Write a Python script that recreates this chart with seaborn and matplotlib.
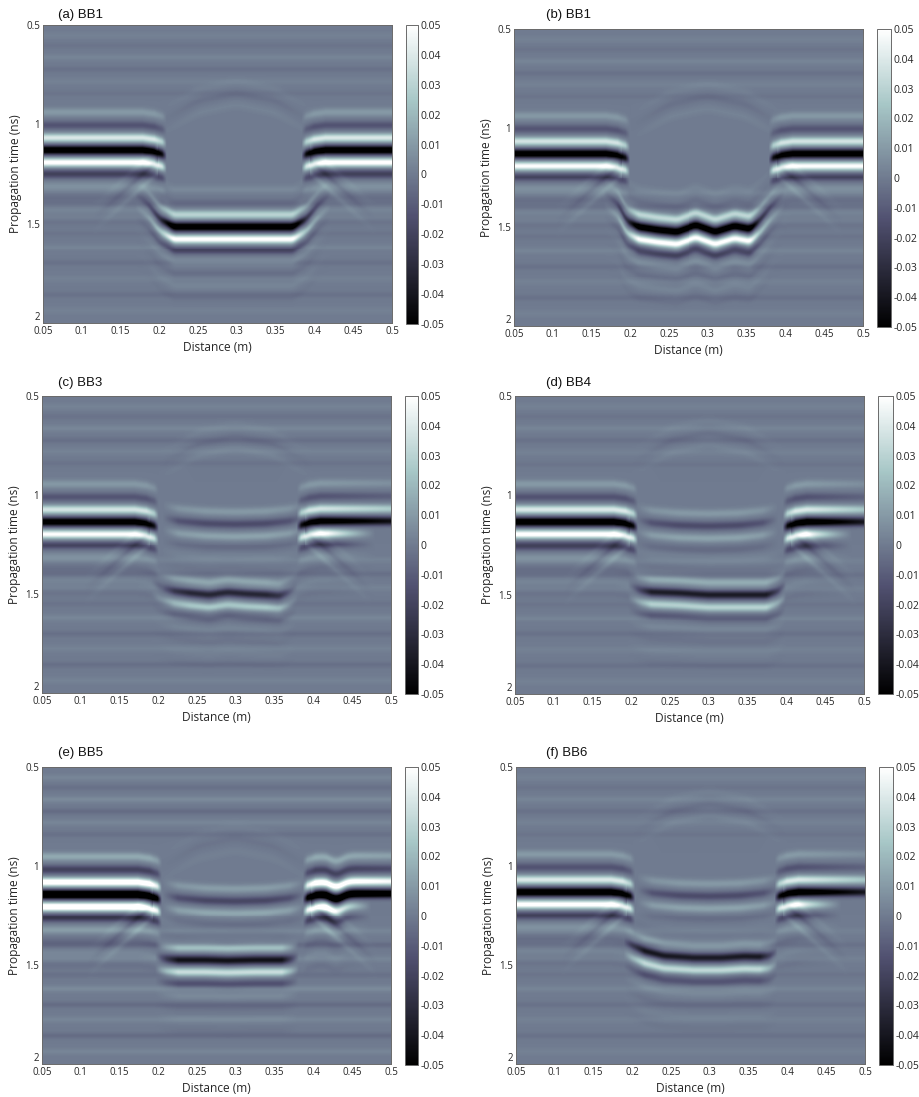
import numpy as np
import matplotlib
matplotlib.use("Agg")
import matplotlib.pyplot as plt
import seaborn as sns

# ------------------------------------------------------------------ text
PANEL_TITLES = ["(a) BB1", "(b) BB1", "(c) BB3", "(d) BB4", "(e) BB5", "(f) BB6"]
X_LABEL = "Distance (m)"
Y_LABEL = "Propagation time (ns)"
X_TICKS = [0.05, 0.1, 0.15, 0.2, 0.25, 0.3, 0.35, 0.4, 0.45, 0.5]
X_TICK_LABELS = ["0.05", "0.1", "0.15", "0.2", "0.25", "0.3", "0.35", "0.4", "0.45", "0.5"]
Y_TICKS = [0.5, 1.0, 1.5, 2.0]
Y_TICK_LABELS = ["0.5", "1", "1.5", "2"]
CBAR_TICKS = [-0.05, -0.04, -0.03, -0.02, -0.01, 0.0, 0.01, 0.02, 0.03, 0.04, 0.05]
CBAR_TICK_LABELS = ["-0.05", "-0.04", "-0.03", "-0.02", "-0.01", "0",
                    "0.01", "0.02", "0.03", "0.04", "0.05"]
VMIN, VMAX = -0.05, 0.05
DIST_RANGE = [0.05, 0.5]
TIME_RANGE = [0.5, 2.0]

# ------------------------------------------------------------------ wavelet (lobe offsets in ns, relative weights)
W_OFF = [-0.19, -0.125, -0.062, 0.0, 0.062, 0.12, 0.18, 0.24, 0.30, 0.36]
W_WT = [0.15, -0.20, 0.60, -1.00, 0.80, -0.32, 0.10, -0.06, 0.045, -0.035]
W_SIG = 0.021

# ------------------------------------------------------------------ surface reflector (per panel)
SURF_T = [1.130, 1.128, 1.134, 1.134, 1.142, 1.130]
SURF_T_RIGHT = [1.130, 1.128, 1.130, 1.134, 1.138, 1.130]
SURF_AMP = [0.065, 0.062, 0.062, 0.066, 0.080, 0.066]
SURF_FRONT = [1.0, 1.0, 1.0, 1.0, 1.25, 1.0]
LEFT_EDGE = [0.203, 0.193, 0.194, 0.202, 0.198, 0.197]
RIGHT_EDGE = [0.390, 0.385, 0.385, 0.402, 0.393, 0.390]
RIGHT_BACK_END = [0.60, 0.60, 0.48, 0.485, 0.475, 0.47]
RIGHT_FRONT_END = [1.0, 1.0, 0.7, 0.6, 0.8, 0.6]
RIGHT_DIP_X = [0.0, 0.0, 0.0, 0.0, 0.430, 0.0]
RIGHT_DIP_D = [0.0, 0.0, 0.0, 0.0, 0.025, 0.0]
EDGE_DX = [-0.025, -0.010, 0.0, 0.006]
EDGE_DT = [0.0, 0.008, 0.020, 0.030]
EDGE_W = [1.0, 1.0, 0.7, 0.0]
DIFF_SLOPE = 3.5
DIFF_LEN = 0.09
DIFF_AMP = [0.14, 0.14, 0.14, 0.14, 0.14, 0.14]

# ------------------------------------------------------------------ intermediate reflector (c-f)
MID_T = [0.0, 0.0, 1.142, 1.151, 1.172, 1.147]
MID_AMP = [0.0, 0.0, 0.016, 0.016, 0.018, 0.016]
MID_X = [0.205, 0.225, 0.26, 0.30, 0.34, 0.37, 0.39]
MID_DT = [-0.030, -0.012, 0.0, 0.004, 0.0, -0.012, -0.030]
MID_W = [0.0, 0.8, 1.0, 1.0, 1.0, 0.8, 0.0]

# ------------------------------------------------------------------ faint dome above the gap
DOME_APEX = [0.84, 0.84, 0.70, 0.68, 0.86, 0.68]
DOME_AMP = [0.003, 0.003, 0.003, 0.003, 0.002, 0.003]
DOME_X = [0.20, 0.25, 0.30, 0.35, 0.40]
DOME_DT = [0.15, 0.04, 0.0, 0.04, 0.15]
DOME_W = [0.0, 1.0, 1.0, 1.0, 0.0]

# ------------------------------------------------------------------ deep reflector (trough time vs distance)
DEEP_X = [
    [0.168, 0.184, 0.200, 0.218, 0.25, 0.30, 0.35, 0.373, 0.390, 0.407, 0.422],
    [0.165, 0.182, 0.195, 0.21, 0.235, 0.26, 0.285, 0.31, 0.335, 0.355, 0.367, 0.384, 0.40],
    [0.19, 0.205, 0.22, 0.24, 0.265, 0.29, 0.315, 0.34, 0.357, 0.37, 0.38],
    [0.195, 0.21, 0.225, 0.26, 0.30, 0.345, 0.375, 0.39, 0.40],
    [0.195, 0.21, 0.225, 0.26, 0.29, 0.325, 0.36, 0.372, 0.382],
    [0.188, 0.20, 0.215, 0.24, 0.28, 0.315, 0.345, 0.365, 0.378, 0.388],
]
DEEP_T = [
    [1.35, 1.40, 1.475, 1.515, 1.515, 1.515, 1.515, 1.515, 1.475, 1.40, 1.35],
    [1.33, 1.38, 1.47, 1.50, 1.515, 1.525, 1.49, 1.525, 1.495, 1.51, 1.47, 1.39, 1.33],
    [1.44, 1.47, 1.485, 1.495, 1.505, 1.492, 1.50, 1.505, 1.51, 1.49, 1.46],
    [1.45, 1.475, 1.485, 1.49, 1.50, 1.50, 1.50, 1.48, 1.45],
    [1.46, 1.47, 1.475, 1.475, 1.478, 1.475, 1.475, 1.47, 1.46],
    [1.38, 1.405, 1.43, 1.455, 1.465, 1.465, 1.458, 1.46, 1.455, 1.43],
]
DEEP_W = [
    [0, 0.15, 0.45, 1, 1, 1, 1, 1, 0.45, 0.15, 0],
    [0, 0.15, 0.45, 1, 1, 1, 1, 1, 1, 1, 0.45, 0.15, 0],
    [0, 0.3, 0.8, 1, 1, 1, 1, 1, 0.8, 0.3, 0],
    [0, 0.5, 1, 1, 1, 1, 1, 0.5, 0],
    [0, 0.6, 1, 1, 1, 1, 1, 0.5, 0],
    [0, 0.5, 1, 1, 1, 1, 1, 1, 0.5, 0],
]
DEEP_AMP = [0.065, 0.065, 0.033, 0.038, 0.045, 0.040]
DEEP_FRONT = [0.75, 0.8, 0.7, 0.7, 0.9, 0.5]
DEEP_PRE = 0.35

# ------------------------------------------------------------------ faint horizontal background banding
BG_T = [0.55, 0.60, 0.66, 0.72, 0.78, 0.84, 1.33, 1.40, 1.47, 1.55, 1.62, 1.70, 1.78, 1.86, 1.94]
BG_A = [0.002, -0.002, 0.003, -0.003, 0.002, -0.002, 0.002, -0.003, 0.002, -0.002,
        0.003, -0.003, 0.002, -0.003, 0.002]
BG_SCALE = [1.0, 1.0, 1.2, 1.0, 1.6, 1.0]

# ------------------------------------------------------------------ layout (pixels in a 919 x 1097 figure)
FIG_W, FIG_H = 919, 1097
AX_PX = [(43, 25, 392, 323), (514, 29, 863, 326), (42, 396, 391, 693),
         (515, 396, 864, 694), (42, 767, 391, 1064), (516, 767, 865, 1064)]
CB_PX = [(406, 25, 418, 324), (877, 29, 891, 327), (405, 396, 418, 694),
         (878, 396, 893, 694), (405, 767, 418, 1065), (879, 767, 893, 1065)]
TITLE_PX = [(58, 15), (546, 15), (58, 383), (546, 383), (58, 753), (546, 753)]

NX, NT = 350, 300
xs = np.linspace(DIST_RANGE[0], DIST_RANGE[1], NX)
ts = np.linspace(TIME_RANGE[0], TIME_RANGE[1], NT)
TT = ts[:, None]


def smooth(v, n=9):
    pad = n // 2
    vp = np.concatenate([np.full(pad, v[0]), v, np.full(pad, v[-1])])
    return np.convolve(vp, np.ones(n) / n, mode="valid")


def wavelet(tau, front=1.0, back=1.0, lobes=None, pre=1.0):
    out = np.zeros(np.broadcast(tau, np.asarray(back)).shape)
    idx = range(len(W_OFF)) if lobes is None else lobes
    for i in idx:
        off, wt = W_OFF[i], W_WT[i]
        f = front if off < 0 else (back if off > 0 else 1.0)
        if off < -0.1:
            f = f * pre
        out = out + f * wt * np.exp(-((tau - off) / W_SIG) ** 2)
    return out


def event(hx, ht, hw, amp, front=1.0, back=1.0, lobes=None, extra_t=None, pre=1.0, sm=1):
    h = np.interp(xs, hx, ht)
    if sm > 1:
        h = smooth(h, sm)
    if extra_t is not None:
        h = h + extra_t
    env = np.interp(xs, hx, hw, left=0.0, right=0.0)
    return amp * env[None, :] * wavelet(TT - h[None, :], front, back, lobes, pre)


def build_section(p):
    img = np.zeros((NT, NX))
    for bt, ba in zip(BG_T, BG_A):
        img += BG_SCALE[p] * ba * np.exp(-((TT - bt) / 0.016) ** 2) * np.ones((1, NX))
    le, t0, a0 = LEFT_EDGE[p], SURF_T[p], SURF_AMP[p]
    lx = [DIST_RANGE[0]] + [le + d for d in EDGE_DX]
    lt = [t0] + [t0 + d for d in EDGE_DT]
    lw = [1.0] + EDGE_W
    img += event(lx, lt, lw, a0, front=SURF_FRONT[p])
    re_, tr = RIGHT_EDGE[p], SURF_T_RIGHT[p]
    rx = [re_ - d for d in EDGE_DX[::-1]] + [DIST_RANGE[1] + 0.001]
    rt = [tr + d for d in EDGE_DT[::-1]] + [tr]
    rw = EDGE_W[::-1] + [RIGHT_FRONT_END[p]]
    back = np.interp(xs, [RIGHT_BACK_END[p] - 0.06, RIGHT_BACK_END[p]], [1.0, 0.0])[None, :]
    dip = RIGHT_DIP_D[p] * np.exp(-((xs - RIGHT_DIP_X[p]) / 0.012) ** 2)
    img += event(rx, rt, rw, a0, front=SURF_FRONT[p], back=back, extra_t=dip)
    da = DIFF_AMP[p] * a0
    img += event([le - DIFF_LEN, le - 0.005], [t0 + 0.05 + DIFF_SLOPE * (DIFF_LEN - 0.005), t0 + 0.05],
                 [0.0, 1.0], da, lobes=[2, 3, 4])
    img += event([re_ + 0.005, re_ + DIFF_LEN], [tr + 0.05, tr + 0.05 + DIFF_SLOPE * (DIFF_LEN - 0.005)],
                 [1.0, 0.0], da, lobes=[2, 3, 4])
    img += event(DOME_X, [DOME_APEX[p] + d for d in DOME_DT], DOME_W, DOME_AMP[p],
                 lobes=[2, 3, 4], sm=15)
    if MID_AMP[p] > 0:
        img += event(MID_X, [MID_T[p] + d for d in MID_DT], MID_W, MID_AMP[p],
                     lobes=[2, 3, 4, 5, 6], sm=11)
    img += event(DEEP_X[p], DEEP_T[p], DEEP_W[p], DEEP_AMP[p], front=DEEP_FRONT[p],
                 pre=DEEP_PRE, sm=7)
    return img


sns.set_theme(style="white")
plt.rcParams["font.family"] = ["Open Sans", "DejaVu Sans"]

fig = plt.figure(figsize=(FIG_W / 100, FIG_H / 100), dpi=100)
frame_col = "#6a6a6a"
text_col = "#262626"

for p in range(6):
    l, t, r, b = AX_PX[p]
    ax = fig.add_axes([l / FIG_W, 1 - b / FIG_H, (r - l) / FIG_W, (b - t) / FIG_H])
    l, t, r, b = CB_PX[p]
    cax = fig.add_axes([l / FIG_W, 1 - b / FIG_H, (r - l) / FIG_W, (b - t) / FIG_H])
    img = build_section(p)
    sns.heatmap(img, ax=ax, cmap="bone", vmin=VMIN, vmax=VMAX, cbar_ax=cax,
                xticklabels=False, yticklabels=False, rasterized=True,
                cbar_kws={"ticks": CBAR_TICKS})
    ax.set_xlim(0, NX)
    ax.set_ylim(NT, 0)
    xt = [(v - DIST_RANGE[0]) / (DIST_RANGE[1] - DIST_RANGE[0]) * NX for v in X_TICKS]
    yt = [(v - TIME_RANGE[0]) / (TIME_RANGE[1] - TIME_RANGE[0]) * NT for v in Y_TICKS]
    ax.set_xticks(xt)
    ax.set_xticklabels(X_TICK_LABELS)
    ax.set_yticks(yt)
    ax.set_yticklabels(Y_TICK_LABELS, rotation=0)
    ax.get_yticklabels()[-1].set_va("bottom")
    ax.tick_params(direction="in", length=3, width=0.6, top=True, right=True,
                   bottom=True, left=True, labelsize=7, pad=2,
                   colors=frame_col, labelcolor=text_col)
    for s in ax.spines.values():
        s.set_visible(True)
        s.set_color(frame_col)
        s.set_linewidth(0.7)
    ax.set_xlabel(X_LABEL, fontsize=8.6, color=text_col, labelpad=3)
    ax.set_ylabel(Y_LABEL, fontsize=8.6, color=text_col, labelpad=3)
    cb = ax.collections[0].colorbar
    cb.outline.set_visible(True)
    cb.outline.set_linewidth(0.7)
    cb.outline.set_edgecolor(frame_col)
    cb.set_ticks(CBAR_TICKS)
    cb.set_ticklabels(CBAR_TICK_LABELS)
    cax.tick_params(direction="in", length=3, width=0.6, labelsize=7.5, pad=2,
                    colors=frame_col, labelcolor=text_col, right=True, left=False)
    tx, ty = TITLE_PX[p]
    fig.text(tx / FIG_W, 1 - ty / FIG_H, PANEL_TITLES[p], ha="left", va="center",
             fontsize=9.5, color="#111111", family=["Liberation Sans", "DejaVu Sans"])

fig.savefig("out.png", dpi=100)
